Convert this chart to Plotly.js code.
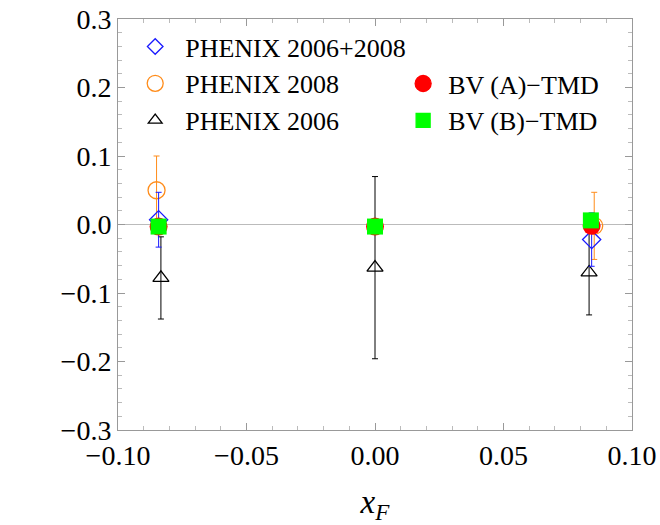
<!DOCTYPE html>
<html><head><meta charset="utf-8">
<script src="https://cdn.plot.ly/plotly-3.0.1.min.js"></script>
<style>body{margin:0;background:#fff}
#chart svg text{font-family:'Liberation Serif','Times New Roman',serif !important}</style>
</head><body><div id="chart" style="width:660px;height:525px"></div>
<script>
// PHENIX 2006+2008 (blue open diamonds)
const combX = [-0.0842, 0.0843];
const combY = [0.007, -0.022];
const combErr = [0.040, 0.039];
// PHENIX 2008 (orange open circles)
const p08X = [-0.0850, 0.0853];
const p08Y = [0.050, -0.002];
const p08Err = [0.050, 0.049];
// PHENIX 2006 (black open triangles)
const p06X = [-0.0833, 0.0, 0.0833];
const p06Y = [-0.078, -0.063, -0.070];
const p06Err = [0.060, 0.133, 0.062];
// BV (A)-TMD (red filled circles)
const bvaX = [-0.0842, 0.0, 0.0843];
const bvaY = [-0.003, -0.003, -0.002];
// BV (B)-TMD (green filled squares)
const bvbX = [-0.0842, 0.0, 0.0840];
const bvbY = [-0.003, -0.003, 0.006];

const names = ["PHENIX 2006+2008", "PHENIX 2008", "PHENIX 2006", "BV (A)\u2212TMD", "BV (B)\u2212TMD"];

const cBlue = "#1a1aff", cOrange = "#ff8c1a", cBlack = "#000000", cRed = "#ff0000", cGreen = "#00ff00";

function errTrace(x, y, e, color, symbol, size) {
  return {x: x, y: y, type: "scatter", mode: "markers", showlegend: false,
    error_y: {type: "data", array: e, visible: true, color: color, thickness: 1, width: 3},
    marker: {symbol: symbol, size: size, color: color, line: {color: color, width: 1.3}}};
}
function legTrace(name, color, symbol, size, leg) {
  return {x: [null], y: [null], type: "scatter", mode: "markers", name: name, legend: leg,
    marker: {symbol: symbol, size: size, color: color, line: {color: color, width: 1.3}}};
}

const data = [
  errTrace(p06X, p06Y, p06Err, cBlack, "triangle-up-open", 14),
  errTrace(p08X, p08Y, p08Err, cOrange, "circle-open", 17),
  errTrace(combX, combY, combErr, cBlue, "diamond-open", 14),
  {x: bvaX, y: bvaY, type: "scatter", mode: "markers", showlegend: false,
   marker: {symbol: "circle", size: 18, color: cRed}},
  {x: bvbX, y: bvbY, type: "scatter", mode: "markers", showlegend: false,
   marker: {symbol: "square", size: 16, color: cGreen}},
  legTrace(names[0], cBlue, "diamond-open", 12, "legend"),
  legTrace(names[1], cOrange, "circle-open", 16, "legend"),
  legTrace(names[2], cBlack, "triangle-up-open", 12, "legend"),
  legTrace(names[3], cRed, "circle", 16, "legend2"),
  legTrace(names[4], cGreen, "square", 14, "legend2")
];

function mkAxis(extra) {
  return Object.assign({
    ticks: "inside", ticklen: 7, tickcolor: "#999", tickwidth: 1,
    showline: true, linecolor: "#999", linewidth: 1, mirror: "ticks",
    showgrid: false, zeroline: false,
    tickfont: {size: 28}
  }, extra);
}
const layout = {
  width: 660, height: 525,
  margin: {l: 118, r: 28, t: 19, b: 95},
  font: {family: "Liberation Serif", size: 27, color: "#000"},
  xaxis: mkAxis({
    range: [-0.1, 0.1], tick0: -0.1, dtick: 0.05, tickformat: ".2f",
    minor: {dtick: 0.01, ticks: "inside", ticklen: 4, tickcolor: "#bbb"},
    title: {text: "<i>x</i><sub><i>F</i></sub>", font: {size: 33}, standoff: 20}
  }),
  yaxis: mkAxis({
    range: [-0.3, 0.3], tick0: -0.3, dtick: 0.1, tickformat: ".1f",
    minor: {dtick: 0.02, ticks: "inside", ticklen: 4, tickcolor: "#bbb"}
  }),
  shapes: [{type: "line", xref: "paper", x0: 0, x1: 1, yref: "y", y0: 0, y1: 0,
    line: {color: "#bbb", width: 1.2}, layer: "below"}],
  legend: {x: 0.014, y: 0.99, xanchor: "left", yanchor: "top", bgcolor: "rgba(0,0,0,0)",
    itemwidth: 50, font: {size: 26}, tracegroupgap: 0},
  legend2: {x: 0.545, y: 0.9, xanchor: "left", yanchor: "top", bgcolor: "rgba(0,0,0,0)",
    itemwidth: 40, font: {size: 26}, tracegroupgap: 0},
  showlegend: true
};
Plotly.newPlot("chart", data, layout, {staticPlot: true});
</script></body></html>
